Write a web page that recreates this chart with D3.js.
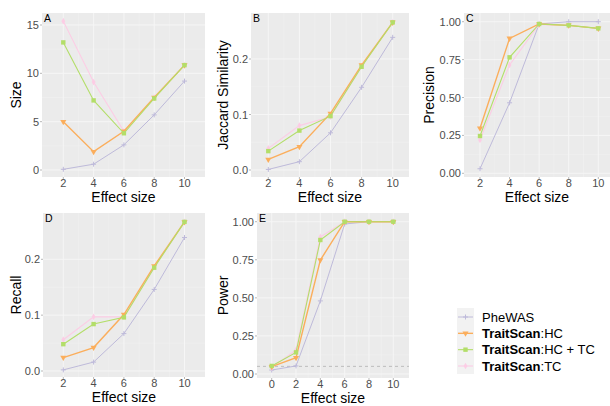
<!DOCTYPE html>
<html><head><meta charset="utf-8">
<script src="https://cdn.jsdelivr.net/npm/d3@7"></script>
<style>body{margin:0;background:#fff}svg{display:block;font-family:"Liberation Sans",Arial,sans-serif}</style>
</head><body>
<svg id="c" width="610" height="406"></svg>
<script>
// ---- data ----
const seriesNames = ["PheWAS", "TraitScan:HC", "TraitScan:HC+TC", "TraitScan:TC"];
const effectSizes = [2, 4, 6, 8, 10];
const powerEffectSizes = [0, 2, 4, 6, 8, 10];

const sizePheWAS = [0.07, 0.6, 2.6, 5.7, 9.2];
const sizeHC     = [5.0, 1.9, 4.0, 7.5, 10.85];
const sizeHCTC   = [13.2, 7.2, 3.8, 7.4, 10.85];
const sizeTC     = [15.4, 9.1, 4.0, 7.5, 10.85];

const jacPheWAS = [0.001, 0.015, 0.067, 0.149, 0.239];
const jacHC     = [0.019, 0.042, 0.102, 0.189, 0.266];
const jacHCTC   = [0.034, 0.071, 0.097, 0.186, 0.266];
const jacTC     = [0.039, 0.080, 0.096, 0.187, 0.266];

const precPheWAS = [0.03, 0.465, 0.985, 1.0, 1.0];
const precHC     = [0.297, 0.89, 0.985, 0.976, 0.956];
const precHCTC   = [0.246, 0.765, 0.985, 0.976, 0.956];
const precTC     = [0.22, 0.715, 0.982, 0.975, 0.955];

const recPheWAS = [0.002, 0.016, 0.067, 0.146, 0.239];
const recHC     = [0.024, 0.042, 0.101, 0.188, 0.267];
const recHCTC   = [0.048, 0.084, 0.096, 0.185, 0.267];
const recTC     = [0.056, 0.097, 0.097, 0.186, 0.267];

const powPheWAS = [0.026, 0.053, 0.48, 0.985, 1.0, 1.0];
const powHC     = [0.048, 0.107, 0.748, 1.0, 1.0, 1.0];
const powHCTC   = [0.053, 0.142, 0.88, 1.0, 1.0, 1.0];
const powTC     = [0.042, 0.158, 0.90, 1.0, 1.0, 1.0];

const sizeTicks = [0, 5, 10, 15];
const jacTicks = [0, 0.1, 0.2];
const precTicks = [0, 0.25, 0.5, 0.75, 1];
const recTicks = [0, 0.1, 0.2];
const powTicks = [0, 0.25, 0.5, 0.75, 1];
const xTicks = [2, 4, 6, 8, 10];
const powXTicks = [0, 2, 4, 6, 8, 10];
const powThreshold = 0.05;

// ---- styles ----
const colors = {"PheWAS":"#BEBADA","TraitScan:HC":"#FBAE5C","TraitScan:HC+TC":"#B3DE69","TraitScan:TC":"#FCCDE5"};
const widths = {"PheWAS":1,"TraitScan:HC":1.4,"TraitScan:HC+TC":1.1,"TraitScan:TC":1.1};
const shapes = {"PheWAS":"plus","TraitScan:HC":"tri","TraitScan:HC+TC":"square","TraitScan:TC":"diamond"};
const drawOrder = [0, 3, 1, 2];

const svg = d3.select("#c");

function fmt(t, ticks){
  const dec = d3.max(ticks, v => { const s = String(v); return s.includes(".") ? s.split(".")[1].length : 0; });
  return d3.format("." + dec + "f")(t);
}

function marker(g, shape, x, y, col){
  const s = 2.5;
  if (shape === "plus") {
    g.append("path").attr("d", `M${x-s},${y}H${x+s}M${x},${y-s}V${y+s}`).attr("stroke", col).attr("stroke-width", 1);
  } else if (shape === "square") {
    g.append("rect").attr("x", x-2.2).attr("y", y-2.2).attr("width", 4.4).attr("height", 4.4).attr("fill", col);
  } else if (shape === "tri") {
    g.append("path").attr("d", d3.symbol(d3.symbolTriangle, 16)()).attr("transform", `translate(${x},${y}) rotate(180)`).attr("fill", col);
  } else {
    g.append("path").attr("d", d3.symbol(d3.symbolDiamond, 13)()).attr("transform", `translate(${x},${y})`).attr("fill", col);
  }
}

function panel(cfg){
  const {box, xs, ys, xt, yt, label, ytitle, xvals, series} = cfg;
  const x = d3.scaleLinear().domain([xs[0], xs[2]]).range([xs[1], xs[3]]);
  const y = d3.scaleLinear().domain([ys[0], ys[2]]).range([ys[1], ys[3]]);
  const [L, R, T, B] = box;
  const g = svg.append("g");
  g.append("rect").attr("x", L).attr("y", T).attr("width", R-L).attr("height", B-T).attr("fill", "#EBEBEB");
  const xminor = xt.slice(0,-1).map((v,i)=> (v + xt[i+1])/2);
  const yminor = yt.slice(0,-1).map((v,i)=> (v + yt[i+1])/2);
  xminor.forEach(v => g.append("line").attr("x1", x(v)).attr("x2", x(v)).attr("y1", T).attr("y2", B).attr("stroke", "#F2F2F2").attr("stroke-width", 0.5));
  yminor.forEach(v => g.append("line").attr("y1", y(v)).attr("y2", y(v)).attr("x1", L).attr("x2", R).attr("stroke", "#F2F2F2").attr("stroke-width", 0.5));
  xt.forEach(v => g.append("line").attr("x1", x(v)).attr("x2", x(v)).attr("y1", T).attr("y2", B).attr("stroke", "#F6F6F6").attr("stroke-width", 1));
  yt.forEach(v => g.append("line").attr("y1", y(v)).attr("y2", y(v)).attr("x1", L).attr("x2", R).attr("stroke", "#F6F6F6").attr("stroke-width", 1));
  xt.forEach(v => {
    g.append("line").attr("x1", x(v)).attr("x2", x(v)).attr("y1", B).attr("y2", B+2).attr("stroke", "#888").attr("stroke-width", 0.6);
    g.append("text").attr("x", x(v)).attr("y", B+10).attr("text-anchor", "middle").attr("font-size", 11).attr("fill", "#4D4D4D").text(v);
  });
  yt.forEach(v => {
    g.append("line").attr("x1", L-2).attr("x2", L).attr("y1", y(v)).attr("y2", y(v)).attr("stroke", "#888").attr("stroke-width", 0.6);
    g.append("text").attr("x", L-3).attr("y", y(v)+4).attr("text-anchor", "end").attr("font-size", 11).attr("fill", "#4D4D4D").text(fmt(v, yt));
  });
  g.append("text").attr("x", (L+R)/2).attr("y", B+24.5).attr("text-anchor", "middle").attr("font-size", 14).attr("fill", "#000").text("Effect size");
  g.append("text").attr("transform", `translate(${cfg.ytx},${(T+B)/2}) rotate(-90)`).attr("text-anchor", "middle").attr("font-size", 14).attr("fill", "#000").text(ytitle);
  g.append("text").attr("x", L+2).attr("y", T+9).attr("font-size", 10.5).attr("fill", "#000").text(label);
  if (cfg.hline !== undefined) {
    g.append("line").attr("x1", L).attr("x2", R).attr("y1", y(cfg.hline)).attr("y2", y(cfg.hline)).attr("stroke", "#AAAAAA").attr("stroke-width", 0.7).attr("stroke-dasharray", "3,3");
  }
  const line = d3.line().x((d,i)=>x(xvals[i])).y(d=>y(d));
  drawOrder.forEach(si => {
    const name = seriesNames[si];
    g.append("path").attr("d", line(series[si])).attr("fill", "none").attr("stroke", colors[name]).attr("stroke-width", widths[name]);
    series[si].forEach((d,i) => marker(g, shapes[name], x(xvals[i]), y(d), colors[name]));
  });
}

panel({box:[42,205,13,177], xs:[2,63.3,10,184.5], ys:[0,170,15,25], xt:xTicks, yt:sizeTicks, label:"A", ytitle:"Size", ytx:21, xvals:effectSizes,
  series:[sizePheWAS,sizeHC,sizeHCTC,sizeTC]});
panel({box:[251,409,13,177], xs:[2,268.3,10,392.7], ys:[0,170,0.2,59], xt:xTicks, yt:jacTicks, label:"B", ytitle:"Jaccard Similarity", ytx:228, xvals:effectSizes,
  series:[jacPheWAS,jacHC,jacHCTC,jacTC]});
panel({box:[464,610,13,177], xs:[2,480,10,598.3], ys:[0,173.3,1,21.7], xt:xTicks, yt:precTicks, label:"C", ytitle:"Precision", ytx:434, xvals:effectSizes,
  series:[precPheWAS,precHC,precHCTC,precTC]});
panel({box:[43,205,213,377], xs:[2,63.3,10,184.5], ys:[0,371,0.2,259.3], xt:xTicks, yt:recTicks, label:"D", ytitle:"Recall", ytx:21, xvals:effectSizes,
  series:[recPheWAS,recHC,recHCTC,recTC]});
panel({box:[257,409,213,378], xs:[0,271.7,10,393.3], ys:[0,374,1,221.7], xt:powXTicks, yt:powTicks, label:"E", ytitle:"Power", ytx:228, xvals:powerEffectSizes,
  series:[powPheWAS,powHC,powHCTC,powTC], hline:powThreshold});

// legend
const lg = svg.append("g");
const ly = d3.scalePoint().domain(seriesNames).range([317, 366]);
lg.append("rect").attr("x", 457).attr("y", 308).attr("width", 17).attr("height", 66).attr("fill", "#F2F2F2");
seriesNames.forEach(name => {
  const yy = ly(name);
  lg.append("line").attr("x1", 458).attr("x2", 473).attr("y1", yy).attr("y2", yy).attr("stroke", colors[name]).attr("stroke-width", widths[name]);
  marker(lg, shapes[name], 465.5, yy, colors[name]);
  const t = lg.append("text").attr("x", 482).attr("y", yy+4.5).attr("font-size", 13).attr("fill", "#000");
  if (name.startsWith("TraitScan")) {
    t.append("tspan").attr("font-weight", "bold").text("TraitScan");
    t.append("tspan").text(":" + name.split(":")[1].replace("+", " + "));
  } else {
    t.text(name);
  }
});
</script>
</body></html>
